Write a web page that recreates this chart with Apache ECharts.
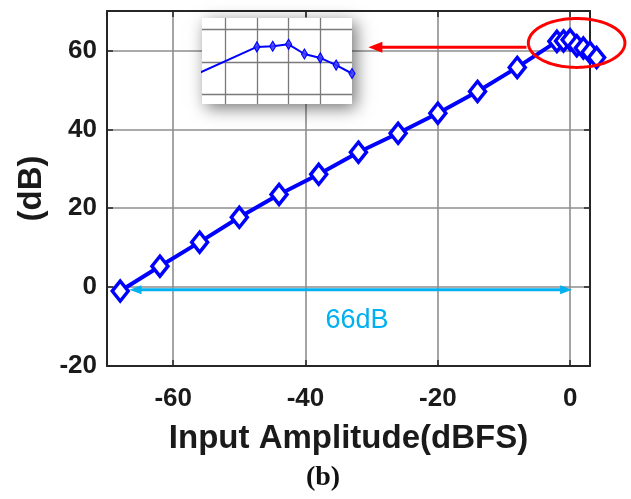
<!DOCTYPE html>
<html>
<head>
<meta charset="utf-8">
<script src="https://cdn.jsdelivr.net/npm/echarts@6/dist/echarts.min.js"></script>
<style>
  html, body { margin: 0; padding: 0; background: #ffffff; }
  #chart { width: 631px; height: 499px; }
</style>
</head>
<body>
<div id="chart"></div>
<script>
// Measured transfer: input amplitude (dBFS) vs output level (dB)
const inputDbfs = [-68, -62, -56, -50, -44, -38, -32, -26, -20, -14, -8, -2, -1, 0, 1, 2, 3, 4];
const outputDb  = [-1.0, 5.3, 11.4, 17.7, 23.5, 28.6, 34.2, 39.0, 44.1, 49.6, 55.7, 62.3, 62.4, 62.7, 61.2, 60.6, 59.5, 58.2];

// Annotations (data units)
const rangeArrow = { from: -66.6, to: 0.3, level: -0.7, text: '66dB', textX: -32.2, textY: -8.5 };
const peakEllipse = { cx: 0.98, cy: 61.9, rx: 7.3, ry: 6.2 };
const pointerArrow = { from: -6.6, to: -30.5, level: 60.8 };

const points = inputDbfs.map((x, i) => [x, outputDb[i]]);

const AXIS_COLOR = '#262626';
const GRID_COLOR = '#8e8e8e';
const BLUE = '#0000ff';
const RED = '#ff0000';
const CYAN = '#00b0f0';
const FONT = 'Liberation Sans';

const chart = echarts.init(document.getElementById('chart'), null, { renderer: 'canvas' });

const mainTick = { show: true, inside: true, length: 6, lineStyle: { color: AXIS_COLOR, width: 1.5 } };
const mainLine = { show: true, onZero: false, lineStyle: { color: AXIS_COLOR, width: 2 } };

const option = {
  animation: false,
  backgroundColor: '#ffffff',
  grid: [
    { left: 107, right: 41, top: 11, bottom: 133, containLabel: false },
    { left: 202, top: 18, width: 150, height: 86, containLabel: false, show: false }
  ],
  xAxis: [
    {
      type: 'value', gridIndex: 0, min: -70, max: 3, splitNumber: 4, position: 'bottom',
      axisLine: mainLine, axisTick: mainTick,
      axisLabel: { show: true, showMinLabel: false, showMaxLabel: false, margin: 20,
        color: '#1a1a1a', fontFamily: FONT, fontWeight: 'bold', fontSize: 26 },
      splitLine: { show: true, showMinLine: false, showMaxLine: false, lineStyle: { color: GRID_COLOR, width: 1.6 } },
      name: 'Input Amplitude(dBFS)', nameLocation: 'middle', nameGap: 56,
      nameTextStyle: { color: '#1a1a1a', fontFamily: FONT, fontWeight: 'bold', fontSize: 33 }
    },
    {
      type: 'value', gridIndex: 0, min: -70, max: 3, splitNumber: 4, position: 'top',
      axisLine: mainLine, axisTick: mainTick, axisLabel: { show: false }, splitLine: { show: false }
    },
    {
      type: 'value', gridIndex: 1, min: -5.46, max: 4, splitNumber: 5, z: 6,
      axisLine: { show: false }, axisTick: { show: false }, axisLabel: { show: false },
      splitLine: { show: true, showMinLine: false, showMaxLine: false, lineStyle: { color: '#7a7a7a', width: 1.3 } }
    }
  ],
  yAxis: [
    {
      type: 'value', gridIndex: 0, min: -20, max: 70, interval: 20, position: 'left',
      axisLine: mainLine, axisTick: mainTick,
      axisLabel: { show: true, showMaxLabel: false, margin: 10,
        color: '#1a1a1a', fontFamily: FONT, fontWeight: 'bold', fontSize: 26 },
      splitLine: { show: true, showMinLine: false, showMaxLine: false, lineStyle: { color: GRID_COLOR, width: 1.6 } },
      name: '(dB)', nameLocation: 'middle', nameGap: 56, nameRotate: 90,
      nameTextStyle: { color: '#1a1a1a', fontFamily: FONT, fontWeight: 'bold', fontSize: 33 }
    },
    {
      type: 'value', gridIndex: 0, min: -20, max: 70, interval: 20, position: 'right',
      axisLine: mainLine, axisTick: mainTick, axisLabel: { show: false }, splitLine: { show: false }
    },
    {
      type: 'value', gridIndex: 1, min: 53.5, max: 66.75, splitNumber: 3, z: 6,
      axisLine: { show: false }, axisTick: { show: false }, axisLabel: { show: false },
      splitLine: { show: true, showMinLine: false, showMaxLine: false, lineStyle: { color: '#7a7a7a', width: 1.3 } }
    }
  ],
  series: [
    {
      name: 'output', type: 'line', xAxisIndex: 0, yAxisIndex: 0, data: points, clip: false, z: 3,
      symbol: 'diamond', symbolSize: [16, 20], showAllSymbol: true,
      lineStyle: { color: BLUE, width: 4 },
      itemStyle: { color: '#ffffff', borderColor: BLUE, borderWidth: 3.5 }
    },
    {
      name: 'output (zoom)', type: 'line', xAxisIndex: 2, yAxisIndex: 2, data: points, clip: true, z: 7,
      symbol: 'diamond', symbolSize: [6, 10], showAllSymbol: true,
      lineStyle: { color: BLUE, width: 2 },
      itemStyle: { color: 'rgba(60,60,255,0.85)', borderColor: BLUE, borderWidth: 1.2 }
    }
  ]
};

chart.setOption(option);

// Annotation overlays placed through the main grid's coordinate system
const toPx = (x, y) => chart.convertToPixel({ gridIndex: 0 }, [x, y]);

function arrowHead(tip, dir, len, half, color) {
  return {
    type: 'polygon', z: 20,
    shape: { points: [tip, [tip[0] - dir * len, tip[1] - half], [tip[0] - dir * len, tip[1] + half]] },
    style: { fill: color }
  };
}

const graphics = [];

// inset panel background with drop shadow
graphics.push({
  type: 'rect', z: 5,
  shape: { x: 202, y: 18, width: 150, height: 86 },
  style: { fill: '#ffffff', shadowBlur: 16, shadowColor: 'rgba(0,0,0,0.55)', shadowOffsetX: 4, shadowOffsetY: 4 }
});

// red ellipse round the peak region
{
  const c = toPx(peakEllipse.cx, peakEllipse.cy);
  const rx = toPx(peakEllipse.cx + peakEllipse.rx, peakEllipse.cy)[0] - c[0];
  const ry = c[1] - toPx(peakEllipse.cx, peakEllipse.cy + peakEllipse.ry)[1];
  const pts = [];
  for (let k = 0; k < 120; k++) {
    const t = (k / 120) * Math.PI * 2;
    pts.push([c[0] + rx * Math.cos(t), c[1] + ry * Math.sin(t)]);
  }
  graphics.push({ type: 'polygon', z: 20, shape: { points: pts }, style: { fill: null, stroke: RED, lineWidth: 3 } });
}

// red pointer from the ellipse to the inset
{
  const a = toPx(pointerArrow.from, pointerArrow.level);
  const b = toPx(pointerArrow.to, pointerArrow.level);
  graphics.push({ type: 'line', z: 20, shape: { x1: a[0], y1: a[1], x2: b[0] + 10, y2: b[1] }, style: { stroke: RED, lineWidth: 3 } });
  graphics.push(arrowHead(b, -1, 14, 5.5, RED));
}

// cyan double arrow marking the dynamic range
{
  const a = toPx(rangeArrow.from, rangeArrow.level);
  const b = toPx(rangeArrow.to, rangeArrow.level);
  graphics.push({ type: 'line', z: 20, shape: { x1: a[0] + 8, y1: a[1], x2: b[0] - 8, y2: b[1] }, style: { stroke: CYAN, lineWidth: 3 } });
  graphics.push(arrowHead(a, -1, 12, 4.5, CYAN));
  graphics.push(arrowHead(b, 1, 12, 4.5, CYAN));
  const t = toPx(rangeArrow.textX, rangeArrow.textY);
  graphics.push({
    type: 'text', z: 20, x: t[0], y: t[1],
    style: { text: rangeArrow.text, fill: CYAN, font: '27px "Liberation Sans Narrow", "Liberation Sans", sans-serif',
      textAlign: 'center', textVerticalAlign: 'middle' }
  });
}

// panel caption
graphics.push({
  type: 'text', z: 20, x: 323, y: 478,
  style: { text: '(b)', fill: '#111', font: 'bold 28px "Liberation Serif", serif', textAlign: 'center', textVerticalAlign: 'middle' }
});

chart.setOption({ graphic: { elements: graphics } });
</script>
</body>
</html>
